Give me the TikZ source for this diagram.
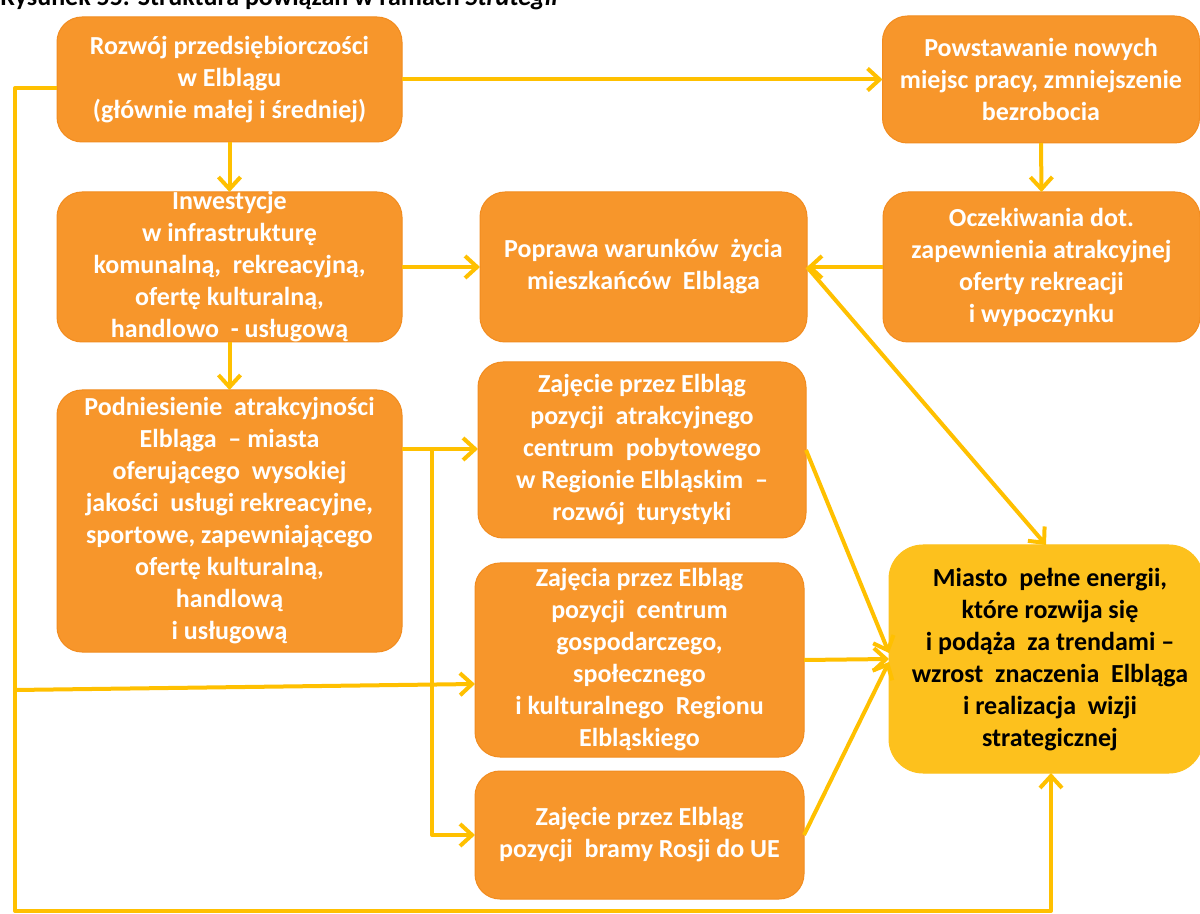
\documentclass[tikz,border=0pt]{standalone}
\usepackage{fontspec}
\setmainfont{Carlito}
\usetikzlibrary{arrows.meta}
\definecolor{boxor}{HTML}{F7962B}
\definecolor{boxedge}{HTML}{F28C1F}
\definecolor{gold}{HTML}{FFC000}
\definecolor{goal}{HTML}{FDC11D}
\begin{document}
\begin{tikzpicture}[x=0.5pt,y=-0.5pt,
  box/.style={fill=boxor, draw=boxedge, line width=0.5pt, rounded corners=12.5pt, inner sep=0pt, outer sep=0pt},
  goalbox/.style={fill=goal, draw=goal, line width=0.5pt, rounded corners=17pt, inner sep=0pt, outer sep=0pt},
  txt/.style={text=white, font=\bfseries\fontsize{13}{16}\selectfont, align=center, inner sep=0pt},
  goaltxt/.style={text=black, font=\bfseries\fontsize{13}{16}\selectfont, align=center, inner sep=0pt},
  conn/.style={draw=gold, line width=2pt, line join=round, -{Straight Barb[length=6pt,width=11pt,line width=2pt]}},
  plainline/.style={draw=gold, line width=2pt, line join=round}]
\useasboundingbox (0,0) rectangle (1200,914);
\fill[white] (0,0) rectangle (1200,914);

% title (cut off at the top)
\node[anchor=base west, inner sep=0pt, font=\bfseries\fontsize{13}{16}\selectfont] (title) at (0,6) {Rysunek 55. Struktura powiązań w ramach \textit{Strategii}};

% boxes
\node[box, minimum width=172.5pt, minimum height=62.5pt] (b1) at (229.5,79.5) {};
\node[box, minimum width=158.5pt, minimum height=63.5pt] (b2) at (1041,79.5) {};
\node[box, minimum width=172.5pt, minimum height=75pt] (b3) at (229.5,267) {};
\node[box, minimum width=163.5pt, minimum height=75pt] (b4) at (643.5,267) {};
\node[box, minimum width=158.5pt, minimum height=75pt] (b5) at (1041.5,267) {};
\node[box, minimum width=172.5pt, minimum height=131pt] (b6) at (229.5,521) {};
\node[box, minimum width=164pt, minimum height=88pt] (b7) at (642,450) {};
\node[box, minimum width=164.5pt, minimum height=97pt] (b8) at (639.5,660) {};
\node[box, minimum width=164.5pt, minimum height=64pt] (b9) at (639.5,835) {};
\node[goalbox, minimum width=157pt, minimum height=114pt] (b10) at (1046,659) {};

% texts
\node[txt] (t1) at (b1.center) {Rozwój przedsiębiorczości\\w Elblągu\\(głównie małej i średniej)};
\node[txt] (t2) at (b2.center) {Powstawanie nowych\\miejsc pracy, zmniejszenie\\bezrobocia};
\node[txt] (t3) at (b3.center) {Inwestycje\\w infrastrukturę\\komunalną,\ \ rekreacyjną,\\ofertę kulturalną,\\handlowo\ \ - usługową};
\node[txt] (t4) at (b4.center) {Poprawa warunków\ \ życia\\mieszkańców\ \ Elbląga};
\node[txt] (t5) at (b5.center) {Oczekiwania dot.\\zapewnienia atrakcyjnej\\oferty rekreacji\\i wypoczynku};
\node[txt] (t6) at (b6.center) {Podniesienie\ \ atrakcyjności\\Elbląga\ \ – miasta\\oferującego\ \ wysokiej\\jakości\ \ usługi rekreacyjne,\\sportowe, zapewniającego\\ofertę kulturalną,\\handlową\\i usługową};
\node[txt] (t7) at (b7.center) {Zajęcie przez Elbląg\\pozycji\ \ atrakcyjnego\\centrum\ \ pobytowego\\w Regionie Elbląskim\ \ –\\rozwój\ \ turystyki};
\node[txt] (t8) at (b8.center) {Zajęcia przez Elbląg\\pozycji\ \ centrum\\gospodarczego,\\społecznego\\i kulturalnego\ \ Regionu\\Elbląskiego};
\node[txt] (t9) at (b9.center) {Zajęcie przez Elbląg\\pozycji\ \ bramy Rosji do UE};
\node[goaltxt] (t10) at (1050,660) {Miasto\ \ pełne energii,\\które rozwija się\\i podąża\ \ za trendami –\\wzrost\ \ znaczenia\ \ Elbląga\\i realizacja\ \ wizji\\strategicznej};

% helper coordinates
\coordinate (c0) at (57,88);
\coordinate (c1) at (15,88);
\coordinate (c2) at (15,911);
\coordinate (c3) at (1051,911);
\coordinate (cb) at (15,690);
\coordinate (b8in) at (475,684);
\coordinate (j1) at (432,449);

% connectors
\draw[conn] (b1.east) -- (b2.west);
\draw[conn] (b1.south) -- (b3.north);
\draw[conn] (b3.south) -- (b6.north);
\draw[conn] (b3.east) -- (b4.west);
\draw[conn] (b5.west) -- (b4.east);
\draw[conn] (b2.south) -- (b5.north);
\draw[conn] (b4.east) -- (b10.north);
\draw[conn] (b6.east |- j1) -- (b7.west |- j1);
\draw[conn] (j1) |- (b9.west);
\draw[conn] (c0) -- (c1) -- (c2) -- (c3) -- (c3 |- b10.south);
\draw[conn] (cb) -- (b8in);
\draw[conn] (b7.east) -- ([yshift=3pt]b10.west);
\draw[conn] (b8.east) -- (b10.west);
\draw[conn] (b9.east) -- ([yshift=-1.5pt]b10.west);
\end{tikzpicture}
\end{document}
